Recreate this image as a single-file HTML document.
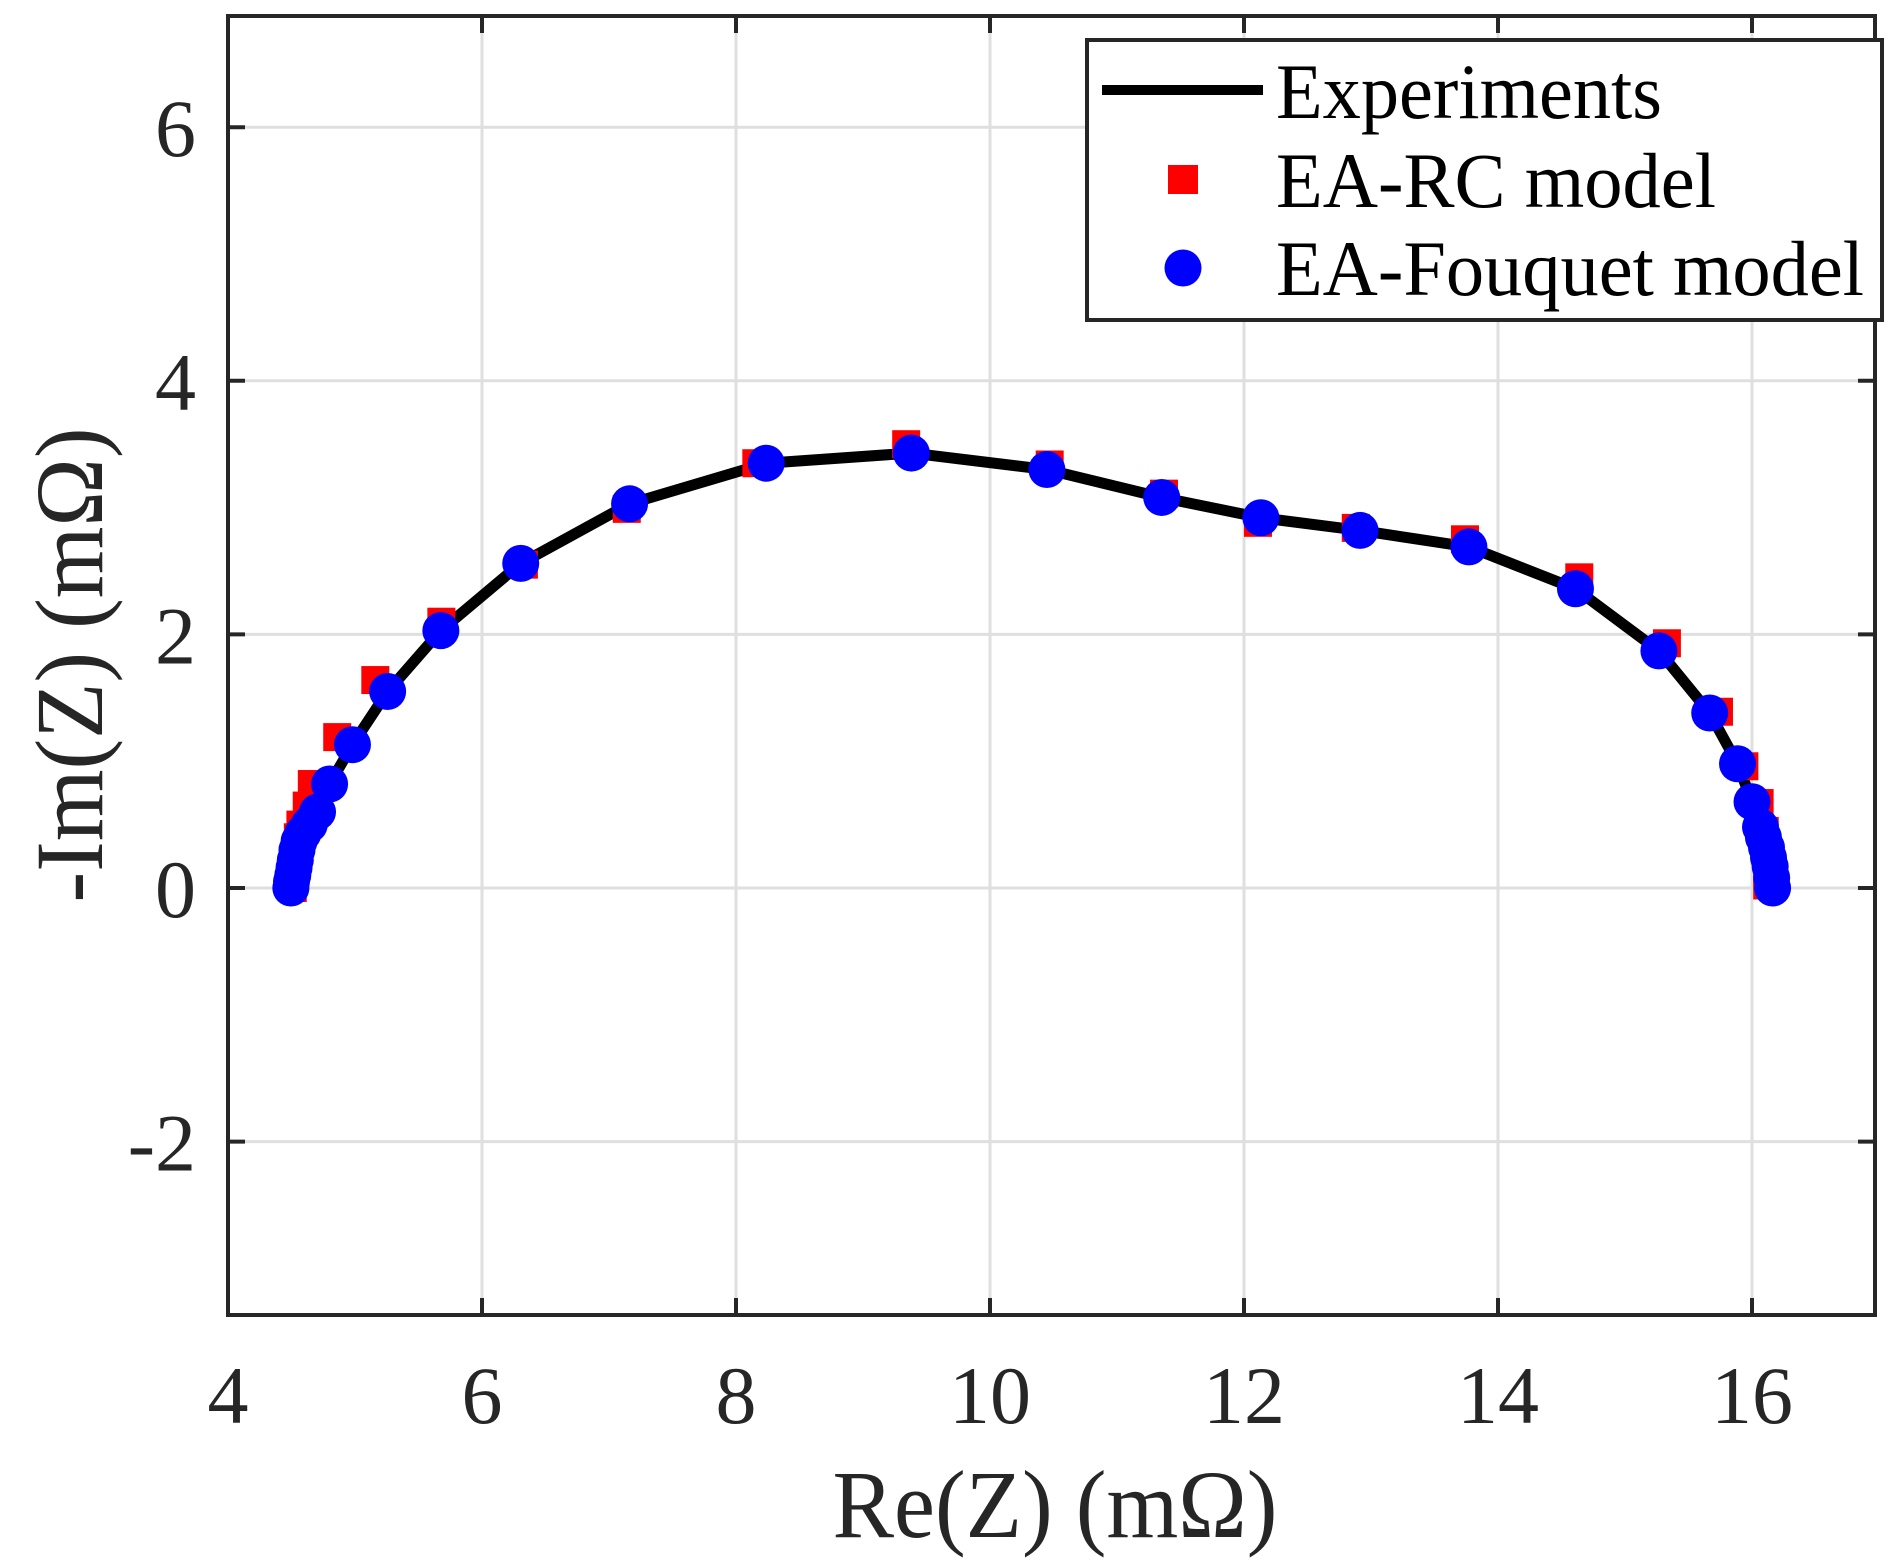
<!DOCTYPE html>
<html><head><meta charset="utf-8"><style>
html,body{margin:0;padding:0;background:#fff;}
svg{display:block;}
text{font-family:"Liberation Serif","Times New Roman",serif;fill:#262626;}
</style></head><body>
<svg id="s" width="1896" height="1566" viewBox="0 0 1896 1566" xmlns="http://www.w3.org/2000/svg">
<rect width="1896" height="1566" fill="#fff"/>
<g id="grid" stroke="#dfdfdf" stroke-width="3"></g>
<g id="plot"></g>
<rect x="228" y="16" width="1647" height="1299" fill="none" stroke="#262626" stroke-width="4"/>
<g id="ticks" stroke="#262626" stroke-width="4"></g>
<g id="labels" font-size="82"></g>
<text x="1055" y="1537" font-size="96" text-anchor="middle" textLength="445" lengthAdjust="spacingAndGlyphs">Re(Z) (mΩ)</text>
<text transform="translate(102,665) rotate(-90)" font-size="96" text-anchor="middle" textLength="475" lengthAdjust="spacingAndGlyphs">-Im(Z) (mΩ)</text>
<rect x="1087" y="40" width="795" height="280" fill="#fff" stroke="#262626" stroke-width="4"/>
<line x1="1102" y1="90" x2="1263" y2="90" stroke="#000" stroke-width="10"/>
<rect x="1168" y="165" width="30" height="29" fill="#f00"/>
<circle cx="1183" cy="268" r="18.5" fill="#00f"/>
<text x="1276" y="118" font-size="78" style="fill:#000" textLength="386" lengthAdjust="spacingAndGlyphs">Experiments</text>
<text x="1276" y="207" font-size="78" style="fill:#000" textLength="440" lengthAdjust="spacingAndGlyphs">EA-RC model</text>
<text x="1276" y="295" font-size="78" style="fill:#000" textLength="588" lengthAdjust="spacingAndGlyphs">EA-Fouquet model</text>
</svg>
<script>
const NS="http://www.w3.org/2000/svg";
const X=x=>228+(x-4)*127, Y=y=>888-y*126.8;
function el(p,t,a){const e=document.createElementNS(NS,t);for(const k in a)e.setAttribute(k,a[k]);p.appendChild(e);return e;}
const g=document.getElementById('grid'),tk=document.getElementById('ticks'),lb=document.getElementById('labels');
for(let v=4;v<=16;v+=2){const x=X(v);
 if(v>4){el(g,'line',{x1:x,y1:16,x2:x,y2:1315});}
 el(tk,'line',{x1:x,y1:1315,x2:x,y2:1298});el(tk,'line',{x1:x,y1:16,x2:x,y2:33});
 const t=el(lb,'text',{x:x,y:1423,'text-anchor':'middle'});t.textContent=v;}
for(let v=-2;v<=6;v+=2){const y=Y(v);
 el(g,'line',{x1:228,y1:y,x2:1875,y2:y});
 el(tk,'line',{x1:228,y1:y,x2:245,y2:y});el(tk,'line',{x1:1875,y1:y,x2:1858,y2:y});
 const t=el(lb,'text',{x:196,y:y+29,'text-anchor':'end'});t.textContent=v;}
const B=[[4.495,0],[4.50,0.05],[4.51,0.1],[4.52,0.16],[4.53,0.22],[4.543,0.3],[4.56,0.37],[4.59,0.43],[4.64,0.5],[4.705,0.6],[4.80,0.82],[4.98,1.13],[5.257,1.55],[5.676,2.03],[6.305,2.56],[7.162,3.03],[8.238,3.35],[9.381,3.43],[10.448,3.30],[11.352,3.08],[12.133,2.92],[12.914,2.82],[13.771,2.69],[14.61,2.36],[15.267,1.87],[15.667,1.38],[15.886,0.98],[16.0,0.68],[16.067,0.48],[16.09,0.4],[16.114,0.32],[16.13,0.24],[16.143,0.17],[16.155,0.08],[16.162,0]];
const R=[[4.51,0],[4.52,0.1],[4.53,0.2],[4.54,0.3],[4.55,0.4],[4.57,0.5],[4.62,0.65],[4.66,0.82],[4.86,1.19],[5.16,1.64],[5.68,2.1],[6.33,2.55],[7.14,2.99],[8.16,3.35],[9.34,3.5],[10.47,3.34],[11.37,3.11],[12.11,2.88],[12.88,2.84],[13.74,2.75],[14.64,2.45],[15.33,1.93],[15.74,1.39],[15.94,0.96],[16.06,0.67],[16.1,0.45],[16.12,0.3],[16.13,0.2],[16.12,0.1],[16.12,0.02]];
const p=document.getElementById('plot');
el(p,'polyline',{points:B.map(d=>X(d[0])+','+Y(d[1])).join(' '),fill:'none',stroke:'#000','stroke-width':11,'stroke-linejoin':'round'});
R.forEach(d=>el(p,'rect',{x:X(d[0])-14,y:Y(d[1])-14,width:28,height:28,fill:'#f00'}));
B.forEach(d=>el(p,'circle',{cx:X(d[0]),cy:Y(d[1]),r:18.5,fill:'#00f'}));
</script>
</body></html>
